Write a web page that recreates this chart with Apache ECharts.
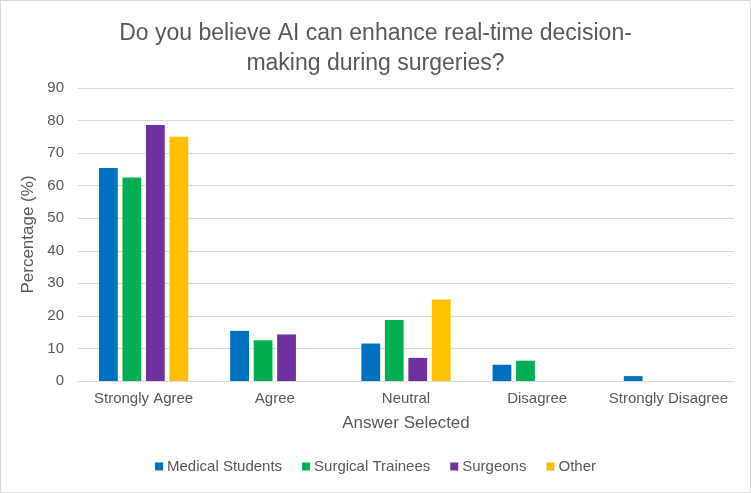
<!DOCTYPE html>
<html>
<head>
<meta charset="utf-8">
<script src="https://cdn.jsdelivr.net/npm/echarts@6/dist/echarts.min.js"></script>
<style>
  html, body { margin: 0; padding: 0; background: #fff; }
  #chart { width: 751px; height: 493px; box-sizing: border-box; border: 1px solid #d9d9d9; }
</style>
</head>
<body>
<div id="chart"></div>
<script>
// 类别与数据
const categories = ['Strongly Agree', 'Agree', 'Neutral', 'Disagree', 'Strongly Disagree'];
const medicalStudents = [65.4, 15.4, 11.5, 5.0, 1.5];
const surgicalTrainees = [62.5, 12.5, 18.75, 6.25, 0];
const surgeons = [78.6, 14.3, 7.1, 0, 0];
const other = [75, 0, 25, 0, 0];

const seriesNames = ['Medical Students', 'Surgical Trainees', 'Surgeons', 'Other'];
const seriesData = [medicalStudents, surgicalTrainees, surgeons, other];
const colors = ['#0070C0', '#00B050', '#7030A0', '#FFC000'];

const font = 'Liberation Sans, Arial, sans-serif';
const textColor = '#595959';

const chart = echarts.init(document.getElementById('chart'));

const option = {
  animation: false,
  color: colors,
  title: {
    text: 'Do you believe AI can enhance real-time decision-\nmaking during surgeries?',
    left: 'center',
    top: 13,
    textStyle: {
      fontFamily: font,
      fontSize: 23,
      fontWeight: 'normal',
      color: textColor,
      lineHeight: 30,
    },
  },
  legend: {
    bottom: 13,
    left: 'center',
    itemWidth: 8,
    itemHeight: 8,
    itemGap: 20,
    icon: 'rect',
    textStyle: { fontFamily: font, fontSize: 15, color: textColor, padding: [0, 0, 0, -1] },
    data: seriesNames,
  },
  grid: {
    left: 77,
    right: 16,
    top: 87,
    bottom: 111,
  },
  xAxis: {
    type: 'category',
    data: categories,
    name: 'Answer Selected',
    nameLocation: 'middle',
    nameGap: 34,
    nameTextStyle: { fontFamily: font, fontSize: 17, color: textColor },
    axisLine: { lineStyle: { color: '#d9d9d9' } },
    axisTick: { show: false },
    axisLabel: { fontFamily: font, fontSize: 15, color: textColor, margin: 10, interval: 0 },
  },
  yAxis: {
    type: 'value',
    min: 0,
    max: 90,
    interval: 10,
    name: 'Percentage (%)',
    nameLocation: 'middle',
    nameGap: 33,
    nameTextStyle: { fontFamily: font, fontSize: 17, color: textColor },
    axisLine: { show: false },
    axisTick: { show: false },
    axisLabel: { fontFamily: font, fontSize: 15, color: textColor, margin: 14 },
    splitLine: { lineStyle: { color: '#d9d9d9' } },
  },
  series: seriesData.map((data, i) => ({
    name: seriesNames[i],
    type: 'bar',
    data: data,
    barGap: '25%',
    barCategoryGap: '32%',
    itemStyle: { color: colors[i] },
  })),
};

chart.setOption(option);
</script>
</body>
</html>
